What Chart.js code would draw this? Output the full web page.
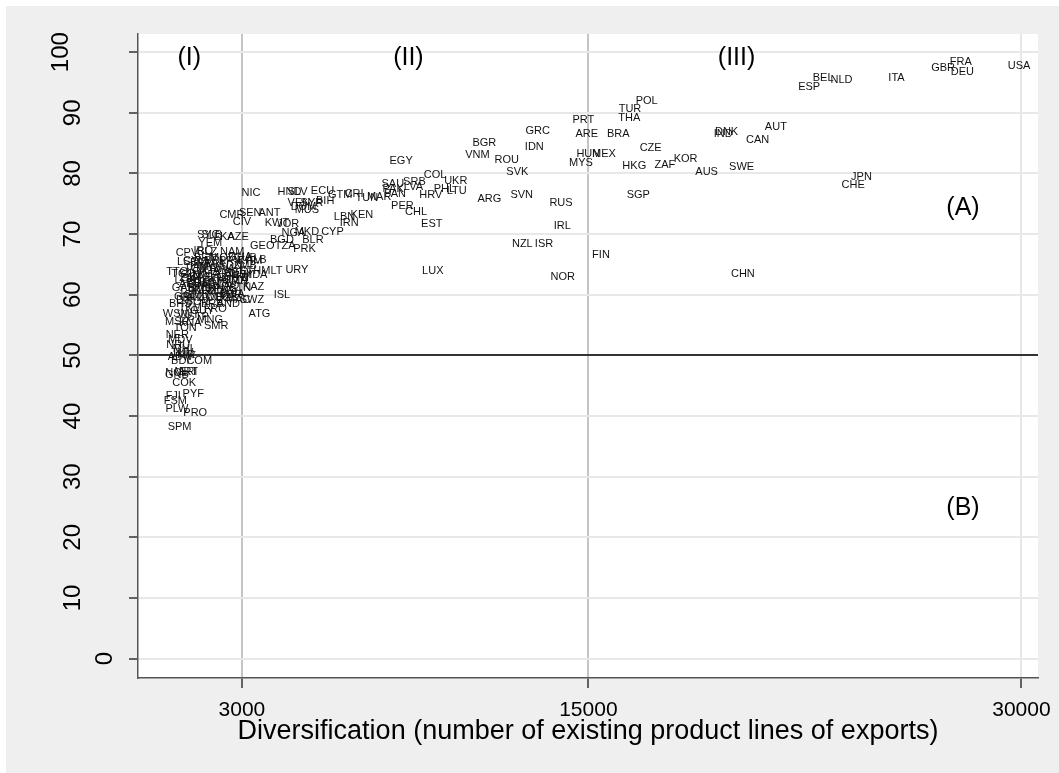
<!DOCTYPE html>
<html>
<head>
<meta charset="utf-8">
<title>Diversification</title>
<script src="https://cdn.jsdelivr.net/npm/chart.js@4.4.1/dist/chart.umd.min.js"></script>
<style>
  html, body { margin: 0; padding: 0; background: #fff; }
  canvas { display: block; }
</style>
</head>
<body>
<canvas id="chart" width="1059" height="773"></canvas>
<script>
// Datos (código de país, diversificación, índice)
const codes = [
  'USA','FRA','GBR','DEU','ITA','NLD','BEL','ESP','JPN','CHE',
  'AUT','CAN','DNK','IND','SWE','AUS','KOR','ZAF','CZE','HKG',
  'SGP','CHN','POL','TUR','THA','BRA','PRT','ARE','HUN','MEX',
  'MYS','FIN','GRC','IDN','BGR','VNM','ROU','SVK','SVN','RUS',
  'IRL','NZL','ISR','NOR','ARG','EGY','COL','UKR','SRB','SAU',
  'PAK','LVA','PHL','LTU','HRV','PAN','PER','CHL','EST','LUX',
  'NIC','HND','SLV','ECU','GTM','CRI','TUN','MAR','VEN','SYR',
  'BIH','DOM','MUS','LBN','KEN','IRN','CMR','SEN','ANT','CIV',
  'KWT','JOR','NGA','MKD','CYP','BLR','BGD','PRK','GEO','TZA',
  'URY','MLT','DZA','MDA','KAZ','SWZ','UZB','ISL','ATG','SMR',
  'ALB','NAM','BLZ','IRQ','CPV','LSO','SYC','SLB','YEM','AZE',
  'LKA','TGO','BEN','MOZ','GHA','KHM','BFA','MLI','SDN','ZMB',
  'MWI','TCD','UGA','RWA','AGO','ETH','GIN','CAF','SLE','LBR',
  'HTI','MMR','AFG','NPL','LAO','BTN','KGZ','TJK','MDG','BWA',
  'GMB','ZWE','DJI','SOM','BRB','TKM','GUY','WSM','VUT','STP',
  'MSR','KNA','TON','MNG','NER','MDV','NRU','MHL','TUV','KIR',
  'ABW','BDI','COM','GNB','MRT','NCL','ERI','COK','FJI','PYF',
  'FSM','PLW','PRO','SPM','TTO','LCA','GRD','BOL','PRY','JAM',
  'ARM','MNE','OMN','QAT','BHR','BRN','SUR','GAB','COG','ZAR',
  'TLS','PNG','LBY','CUB','MAC','BHS','BMU','CYM','GRL','FRO',
  'AND'
];
const diversification = [
  29917,27899,27286,27957,25673,23769,23132,22648,24461,24171,
  21495,20861,19788,19671,20308,19096,18369,17653,17158,16590,
  16728,20353,17019,16441,16417,16036,14825,14942,14998,15541,
  14745,15437,13246,13128,11398,11155,12173,12540,12692,14053,
  14098,12713,13464,14111,11571,8514,9691,10408,8975,8227,
  8237,8940,10013,10442,9542,8306,8559,9033,9577,9611,
  3312,4648,4925,5790,6403,6887,7327,7753,4973,5423,
  5883,5132,5250,6552,7154,6714,2654,3287,3955,3000,
  4212,4603,4786,5250,6136,5458,4385,5167,3703,4499,
  4904,4038,2827,3460,3402,3346,2481,4385,3609,2110,
  3495,2664,1799,1660,1096,1131,1833,1960,1903,2872,
  2387,968,1730,2318,2941,3287,1557,2076,2595,3114,
  1903,1383,1833,2318,2803,3287,1210,1557,2007,2526,
  2941,2110,1210,1660,2526,2941,1730,1141,2249,2664,
  1418,1903,1003,1487,1972,1210,1626,726,1141,1487,
  760,1210,1037,1903,760,864,795,1003,933,1072,
  864,864,1522,750,1072,726,1141,1003,622,1314,
  691,750,1383,840,760,1037,1280,2076,2595,1487,
  2457,1730,2768,2318,1487,1972,2595,968,2180,1210,
  1730,2422,3045,3114,2872,864,1557,1383,1037,2076,
  2526
];
const share = [
  97.7,98.4,97.4,96.8,95.7,95.4,95.8,94.3,79.5,78.1,
  87.6,85.5,86.9,86.5,81.1,80.2,82.4,81.4,84.2,81.2,
  76.5,63.4,91.9,90.6,89.2,86.5,88.8,86.5,83.2,83.2,
  81.7,66.5,87.0,84.3,85.1,83.0,82.3,80.2,76.5,75.1,
  71.4,68.4,68.3,62.9,75.8,82.1,79.7,78.8,78.6,78.2,
  77.5,77.7,77.5,77.1,76.5,76.6,74.7,73.6,71.7,64.0,
  76.8,77.0,77.0,77.1,76.5,76.6,75.9,76.2,75.1,75.2,
  75.5,74.5,73.9,72.9,73.2,71.8,73.2,73.5,73.5,72.0,
  71.8,71.7,70.2,70.4,70.4,69.1,69.1,67.5,68.1,68.1,
  64.1,63.9,62.4,63.2,61.3,59.2,59.4,60.0,56.9,54.9,
  65.7,67.1,67.0,67.3,66.9,65.4,69.9,69.9,68.6,69.6,
  69.6,63.4,66.1,66.1,66.3,65.5,65.2,65.0,64.8,64.8,
  64.5,64.2,64.0,64.2,63.8,64.0,63.2,62.9,62.7,62.9,
  62.7,61.9,61.7,61.5,61.4,61.2,60.6,60.6,60.6,60.2,
  59.9,59.6,59.1,58.8,58.4,57.9,57.4,56.8,56.6,56.3,
  55.5,55.3,54.5,55.8,53.3,52.5,51.7,51.0,50.4,50.1,
  49.7,49.1,49.1,46.7,47.3,47.1,47.3,45.5,43.3,43.7,
  42.5,41.2,40.5,38.2,63.8,62.4,59.4,65.5,65.5,64.5,
  63.5,63.2,62.2,62.4,62.0,61.1,59.9,61.2,59.4,62.7,
  62.0,60.9,63.2,66.1,59.2,58.4,60.9,65.5,59.6,57.6,
  58.4
];

const xTicks = [3000, 15000, 30000];
const yTicks = [0, 10, 20, 30, 40, 50, 60, 70, 80, 90, 100];
const xTitle = 'Diversification (number of existing product lines of exports)';

// Etiquetas de las zonas
const regionText = ['(I)', '(II)', '(III)', '(A)', '(B)'];
const regionX = [1176, 8767, 20134, 27978, 27978];
const regionY = [99.1, 99.1, 99.1, 74.3, 24.8];

const FONT = '"Liberation Sans", Arial, Helvetica, sans-serif';

// Fondo gris exterior y zona de gráfico blanca
const background = {
  id: 'background',
  beforeDraw(chart) {
    const ctx = chart.ctx;
    const a = chart.chartArea;
    ctx.save();
    ctx.fillStyle = '#ffffff';
    ctx.fillRect(0, 0, chart.width, chart.height);
    ctx.fillStyle = '#efefef';
    ctx.fillRect(6, 6, chart.width - 6, chart.height - 6);
    ctx.fillStyle = '#ffffff';
    ctx.fillRect(a.left, a.top, a.right - a.left, a.bottom - a.top);
    ctx.restore();
  }
};

// Códigos de país centrados en cada punto
const pointLabels = {
  id: 'pointLabels',
  afterDatasetsDraw(chart) {
    const ctx = chart.ctx;
    const meta = chart.getDatasetMeta(0);
    ctx.save();
    ctx.font = '11px ' + FONT;
    ctx.fillStyle = '#111';
    ctx.textAlign = 'center';
    ctx.textBaseline = 'middle';
    meta.data.forEach((pt, i) => {
      ctx.fillText(codes[i], pt.x, pt.y);
    });

    // zonas (I), (II), (III), (A), (B)
    const xs = chart.scales.x, ys = chart.scales.y;
    ctx.font = '25px ' + FONT;
    ctx.fillStyle = '#000';
    regionText.forEach((t, i) => {
      ctx.fillText(t, xs.getPixelForValue(regionX[i]), ys.getPixelForValue(regionY[i]));
    });
    ctx.restore();
  }
};

// Etiquetas de los ejes dibujadas a mano (las del eje y giradas 90 grados)
const axisText = {
  id: 'axisText',
  afterDraw(chart) {
    const ctx = chart.ctx;
    const xs = chart.scales.x, ys = chart.scales.y;
    ctx.save();
    ctx.fillStyle = '#000';
    ctx.textAlign = 'center';

    ctx.textBaseline = 'alphabetic';
    ctx.font = '21px ' + FONT;
    xTicks.forEach(v => {
      ctx.fillText(String(v), xs.getPixelForValue(v), 716);
    });

    // el centro de cada etiqueta se desplaza según su largo
    ctx.font = '24px ' + FONT;
    ctx.textBaseline = 'middle';
    yTicks.forEach(v => {
      const s = String(v);
      const cx = s.length === 1 ? 104 : (s.length === 2 ? 72 : 60);
      ctx.save();
      ctx.translate(cx, ys.getPixelForValue(v));
      ctx.rotate(-Math.PI / 2);
      ctx.fillText(s, 0, 1);
      ctx.restore();
    });

    // título del eje x ajustado al ancho del original
    ctx.textBaseline = 'alphabetic';
    ctx.font = '24px ' + FONT;
    const w = ctx.measureText(xTitle).width;
    const size = 24 * 700 / w;
    ctx.font = size.toFixed(1) + 'px ' + FONT;
    ctx.fillText(xTitle, 588, 739);
    ctx.restore();
  }
};

new Chart(document.getElementById('chart'), {
  type: 'scatter',
  data: {
    datasets: [{
      data: codes.map((c, i) => ({ x: diversification[i], y: share[i] })),
      pointRadius: 0,
      pointHoverRadius: 0
    }]
  },
  options: {
    responsive: false,
    animation: false,
    devicePixelRatio: 1,
    events: [],
    layout: { padding: { left: 0, top: 34, right: 21, bottom: 0 } },
    plugins: {
      legend: { display: false },
      tooltip: { enabled: false }
    },
    scales: {
      x: {
        type: 'linear',
        min: -600,
        max: 30575,
        afterBuildTicks: scale => { scale.ticks = xTicks.map(v => ({ value: v })); },
        afterFit: scale => { scale.height = 95; },
        ticks: { display: false },
        grid: {
          color: ctx => (ctx.tick && ctx.tick.value === 30000) ? '#e6e6e6' : '#c4c4c4',
          lineWidth: 2,
          tickLength: 10,
          tickColor: '#333',
          tickWidth: 1.5
        },
        border: { color: '#555', width: 1.5 }
      },
      y: {
        type: 'linear',
        min: -3.2,
        max: 103,
        afterBuildTicks: scale => { scale.ticks = yTicks.map(v => ({ value: v })); },
        afterFit: scale => { scale.width = 138; },
        ticks: { display: false },
        grid: {
          color: ctx => (ctx.tick && ctx.tick.value === 50) ? '#333' : '#e8e8e8',
          lineWidth: 2,
          tickLength: 9,
          tickColor: '#333',
          tickWidth: 1.5
        },
        border: { color: '#555', width: 1.5 }
      }
    }
  },
  plugins: [background, pointLabels, axisText]
});
</script>
</body>
</html>
